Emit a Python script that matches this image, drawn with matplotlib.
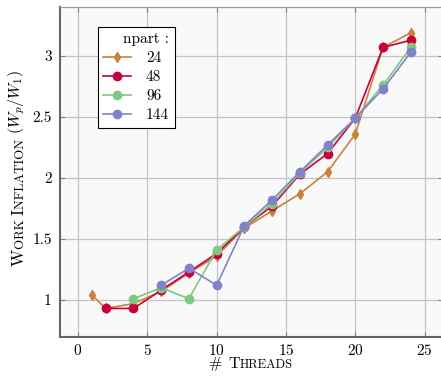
import numpy as np
import matplotlib
matplotlib.use('Agg')
import matplotlib.pyplot as plt

plt.rcParams['font.family'] = 'serif'
plt.rcParams['font.serif'] = ['cmr10']
plt.rcParams['mathtext.fontset'] = 'cm'
plt.rcParams['axes.formatter.use_mathtext'] = True

# work inflation per thread count, one series per npart value
threads_24 = [1, 2, 4, 6, 8, 10, 12, 14, 16, 18, 20, 22, 24]
infl_24 = [1.04, 0.93, 0.97, 1.07, 1.22, 1.36, 1.59, 1.73, 1.87, 2.05, 2.36, 3.07, 3.19]
threads_48 = [2, 4, 6, 8, 10, 12, 14, 16, 18, 20, 22, 24]
infl_48 = [0.93, 0.93, 1.08, 1.23, 1.38, 1.60, 1.77, 2.03, 2.20, 2.49, 3.07, 3.13]
threads_96 = [4, 6, 8, 10, 12, 14, 16, 18, 20, 22, 24]
infl_96 = [1.01, 1.10, 1.01, 1.41, 1.60, 1.79, 2.04, 2.25, 2.49, 2.76, 3.07]
threads_144 = [6, 8, 10, 12, 14, 16, 18, 20, 22, 24]
infl_144 = [1.12, 1.26, 1.12, 1.61, 1.82, 2.05, 2.27, 2.49, 2.73, 3.03]

labels = ['24', '48', '96', '144']
colors = ['#c8823c', '#c8003c', '#80c880', '#8282c8']
markers = ['d', 'o', 'o', 'o']
msizes = [5, 6, 6, 6]

xticks = [0, 5, 10, 15, 20, 25]
yticks = [1, 1.5, 2, 2.5, 3]
ytick_labels = ['1', '1.5', '2', '2.5', '3']

fig = plt.figure(figsize=(4.41, 3.77), dpi=100)
ax = fig.add_axes([60/441, 40.5/377, 383/441, 330/377])
ax.set_facecolor('#f9f9f9')

series = [(threads_24, infl_24), (threads_48, infl_48),
          (threads_96, infl_96), (threads_144, infl_144)]
for (x, y), lab, c, m, ms in zip(series, labels, colors, markers, msizes):
    ax.plot(x, y, color=c, marker=m, markersize=ms, lw=1.2, label=lab,
            markeredgecolor=c, markerfacecolor=c)

ax.set_xlim(-1.3, 26.33)
ax.set_ylim(0.70, 3.406)
ax.set_xticks(xticks)
ax.set_yticks(yticks)
ax.set_yticklabels(ytick_labels)
ax.grid(True, color='#c4c4c4', lw=0.9)
ax.set_axisbelow(True)
ax.tick_params(direction='in', length=3.5, width=0.8, color='#808080',
               labelsize=11, top=True, right=True)
ax.tick_params(axis='x', pad=5)
ax.tick_params(axis='y', pad=6)
for side in ['left', 'bottom']:
    ax.spines[side].set_color('#666666')
    ax.spines[side].set_linewidth(1.5)
for side in ['top', 'right']:
    ax.spines[side].set_color('#999999')
    ax.spines[side].set_linewidth(0.9)

leg = ax.legend(title='npart :', loc='upper left', bbox_to_anchor=(0.099, 0.938),
                fontsize=11, title_fontsize=11, fancybox=False, framealpha=1,
                edgecolor='black', handlelength=1.8, labelspacing=0.35,
                borderpad=0.35, handletextpad=1.0, borderaxespad=0)
leg.get_frame().set_linewidth(0.8)
leg._legend_box.align = 'right'


def smallcaps(pieces, x, y, vertical=False):
    # chain text pieces of mixed size, then centre the whole run on (x, y)
    rot = 90 if vertical else 0
    first = fig.text(x, y, pieces[0][0], fontsize=pieces[0][1], rotation=rot,
                     ha='right' if vertical else 'left', va='bottom')
    texts = [first]
    prev = first
    for s, size in pieces[1:]:
        if vertical:
            t = ax.annotate(s, xy=(1, 1), xycoords=prev, fontsize=size,
                            rotation=90, ha='right', va='bottom',
                            annotation_clip=False)
        else:
            t = ax.annotate(s, xy=(1, 0), xycoords=prev, fontsize=size,
                            ha='left', va='bottom', annotation_clip=False)
        texts.append(t)
        prev = t
    W, H = fig.bbox.width, fig.bbox.height
    for _ in range(3):
        fig.canvas.draw()
        r = fig.canvas.get_renderer()
        boxes = [t.get_window_extent(r) for t in texts]
        fx, fy = first.get_position()
        if vertical:
            mid = (min(b.y0 for b in boxes) + max(b.y1 for b in boxes)) / 2
            first.set_position((fx, fy + (y * H - mid) / H))
        else:
            mid = (min(b.x0 for b in boxes) + max(b.x1 for b in boxes)) / 2
            first.set_position((fx + (x * W - mid) / W, fy))
    return texts


smallcaps([('# ', 11.5), ('T', 11.5), ('HREADS', 9.0)], 251/441, 6/377)
smallcaps([('W', 12), ('ORK ', 9.4), ('I', 12), ('NFLATION ', 9.4),
           ('$(W_p/W_1)$', 11.5)], 27/441, 209/377, vertical=True)

fig.savefig('out.png', dpi=100)
